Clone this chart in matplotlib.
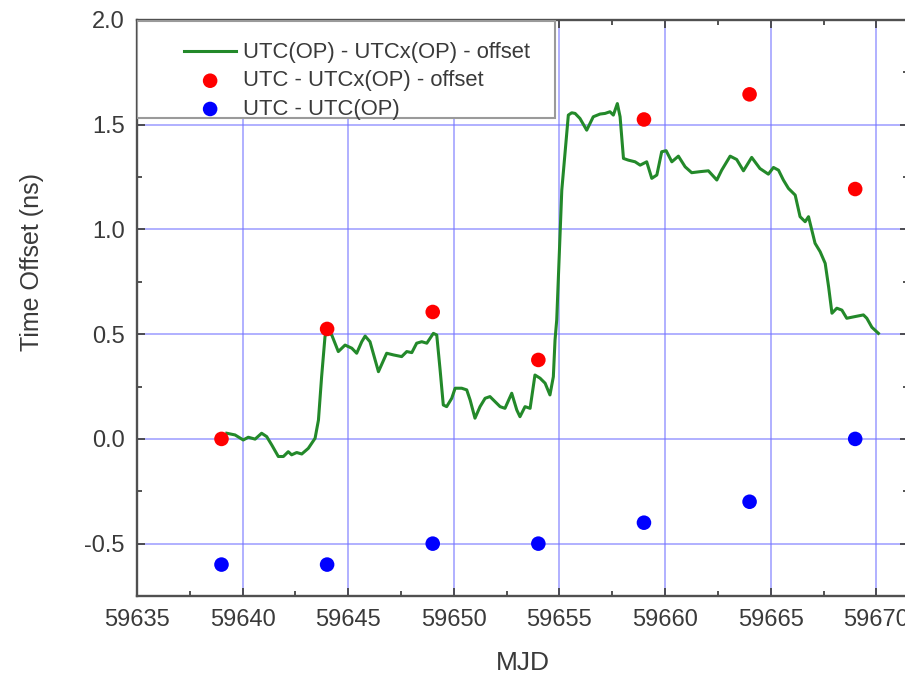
import matplotlib
matplotlib.use("Agg")
import matplotlib.pyplot as plt
from matplotlib.patches import Rectangle
from matplotlib.ticker import MultipleLocator, FormatStrFormatter

plt.rcParams['font.family'] = ['Liberation Sans', 'DejaVu Sans']

# UTC(OP) - UTCx(OP) - offset, continuous comparison (MJD, ns)
mjd_line = [59639.25, 59639.64, 59640.03, 59640.27, 59640.59, 59640.90, 59641.14,
            59641.38, 59641.69, 59641.93, 59642.16, 59642.32, 59642.56, 59642.80,
            59643.11, 59643.43, 59643.59, 59643.74, 59643.90, 59643.98,
            59644.22, 59644.53, 59644.85, 59645.17, 59645.40, 59645.64, 59645.80,
            59646.03, 59646.43, 59646.82, 59647.14, 59647.53, 59647.77, 59648.01,
            59648.24, 59648.48, 59648.72, 59649.03, 59649.19, 59649.35, 59649.50,
            59649.66, 59649.90, 59650.06, 59650.37, 59650.61, 59650.77, 59651.00,
            59651.24, 59651.48, 59651.71, 59651.95, 59652.19, 59652.42, 59652.74,
            59652.98, 59653.13, 59653.37, 59653.61, 59653.84, 59654.08, 59654.32,
            59654.55, 59654.71, 59654.79, 59654.87, 59655.11, 59655.42, 59655.58,
            59655.74, 59655.97, 59656.29, 59656.60, 59656.92, 59657.16, 59657.39,
            59657.55, 59657.74, 59657.87, 59658.03, 59658.26, 59658.58, 59658.82,
            59659.13, 59659.37, 59659.61, 59659.84, 59660.05, 59660.32, 59660.63,
            59660.95, 59661.26, 59661.66, 59662.05, 59662.45, 59662.68, 59663.08,
            59663.39, 59663.71, 59664.10, 59664.49, 59664.89, 59665.13, 59665.37,
            59665.60, 59665.84, 59666.16, 59666.39, 59666.63, 59666.79, 59667.10,
            59667.34, 59667.58, 59667.74, 59667.90, 59668.13, 59668.37, 59668.60,
            59668.99, 59669.39, 59669.55, 59669.79, 59670.10]
offset_line = [0.027, 0.019, -0.005, 0.008, -0.001, 0.027, 0.011,
               -0.029, -0.084, -0.084, -0.061, -0.076, -0.065, -0.072,
               -0.045, 0.003, 0.090, 0.297, 0.488, 0.512,
               0.496, 0.417, 0.448, 0.433, 0.409, 0.464, 0.491,
               0.464, 0.321, 0.409, 0.401, 0.393, 0.417, 0.412,
               0.457, 0.464, 0.457, 0.504, 0.496, 0.329, 0.162,
               0.154, 0.194, 0.242, 0.242, 0.234, 0.186, 0.099,
               0.154, 0.194, 0.202, 0.178, 0.154, 0.146, 0.218,
               0.138, 0.106, 0.154, 0.146, 0.305, 0.290, 0.266,
               0.210, 0.297, 0.472, 0.568, 1.188, 1.546, 1.557,
               1.554, 1.530, 1.474, 1.538, 1.551, 1.554, 1.562,
               1.546, 1.601, 1.538, 1.339, 1.331, 1.323, 1.307,
               1.323, 1.244, 1.260, 1.371, 1.376, 1.323, 1.350,
               1.299, 1.271, 1.276, 1.280, 1.236, 1.283, 1.350,
               1.334, 1.280, 1.344, 1.291, 1.264, 1.296, 1.283,
               1.236, 1.196, 1.164, 1.061, 1.037, 1.061, 0.934,
               0.894, 0.838, 0.727, 0.600, 0.624, 0.615, 0.576,
               0.584, 0.592, 0.576, 0.533, 0.504]

# Monthly points
mjd_points = [59639, 59644, 59649, 59654, 59659, 59664, 59669]
utc_utcx = [0.0, 0.525, 0.606, 0.377, 1.525, 1.645, 1.193]
utc_utcop = [-0.6, -0.6, -0.5, -0.5, -0.4, -0.3, 0.0]

labels = ["UTC(OP) - UTCx(OP) - offset", "UTC - UTCx(OP) - offset", "UTC - UTC(OP)"]

fig = plt.figure(figsize=(9.05, 6.78), dpi=100)
ax = fig.add_axes([137 / 905, 82 / 678, 771 / 905, 576 / 678])

text_col = '#3a3a3a'
ax.grid(True, which='major', color='#7373ff', alpha=0.6, lw=1.3, zorder=0)
ax.set_axisbelow(True)

ln, = ax.plot(mjd_line, offset_line, color='#23892a', lw=2.2, zorder=3, label=labels[0])
r = ax.scatter(mjd_points, utc_utcx, s=110, color='#ff0000', edgecolors='none', zorder=4, label=labels[1])
b = ax.scatter(mjd_points, utc_utcop, s=110, color='#0000ff', edgecolors='none', zorder=4, label=labels[2])

ax.set_xlim(59635, 59671.5)
ax.set_ylim(-0.75, 2.0)
ax.xaxis.set_major_locator(MultipleLocator(5))
ax.xaxis.set_minor_locator(MultipleLocator(2.5))
ax.yaxis.set_major_locator(MultipleLocator(0.5))
ax.yaxis.set_minor_locator(MultipleLocator(0.25))
ax.yaxis.set_major_formatter(FormatStrFormatter('%.1f'))
ax.xaxis.set_major_formatter(FormatStrFormatter('%d'))

ax.tick_params(which='both', direction='in', top=True, right=True,
               colors='#444444', labelcolor=text_col, labelsize=17, width=1.3)
ax.tick_params(which='major', length=6, pad=9)
ax.tick_params(which='minor', length=3.5)
for sp in ax.spines.values():
    sp.set_color('#505050')
    sp.set_linewidth(1.7)

ax.set_xlabel('MJD', fontsize=19, color=text_col, labelpad=15)
ax.set_ylabel('Time Offset (ns)', fontsize=18, color=text_col)
ax.yaxis.set_label_coords(-0.12, 0.58)

# legend box
ax.add_patch(Rectangle((0.0, 0.830), 0.542, 0.168, transform=ax.transAxes,
                       facecolor='white', edgecolor='#9a9a9a', lw=1.5, zorder=5))
leg = ax.legend(handles=[ln, r, b], loc='upper left', bbox_to_anchor=(0.055, 0.969),
                frameon=False, fontsize=15.8, handlelength=2.4, handletextpad=0.3,
                labelspacing=0.33, borderpad=0.2, borderaxespad=0, scatterpoints=1,
                labelcolor=text_col)
leg.set_zorder(6)

fig.savefig('out.png', dpi=100)
